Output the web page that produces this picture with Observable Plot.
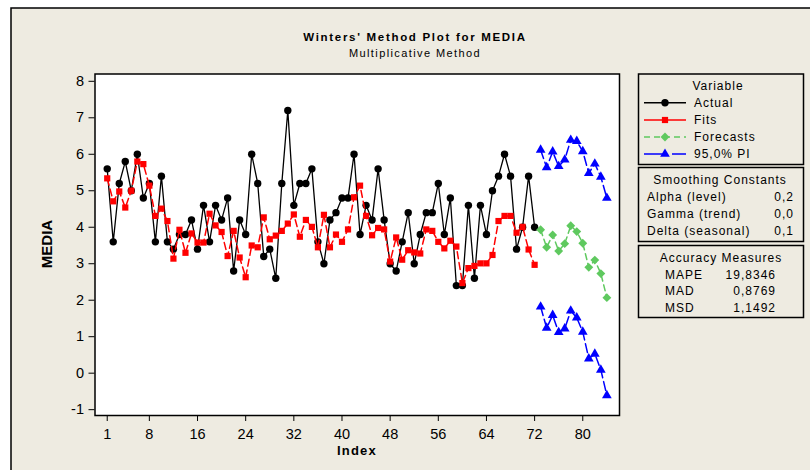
<!DOCTYPE html>
<html><head><meta charset="utf-8">
<script src="https://cdn.jsdelivr.net/npm/d3@7"></script>
<script src="https://cdn.jsdelivr.net/npm/@observablehq/plot@0.6"></script>
<style>body{margin:0;background:#fff} svg{display:block}</style>
</head><body><div id="chart"></div>
<script>
// ---- data ----
const actual = [5.6,3.6,5.2,5.8,5.0,6.0,4.8,5.2,3.6,5.4,
  3.6,3.4,3.8,3.8,4.2,3.4,4.6,3.6,4.6,4.2,
  4.8,2.8,4.2,3.8,6.0,5.2,3.2,3.4,2.6,5.2,
  7.2,4.6,5.2,5.2,5.6,3.6,3.0,4.2,4.4,4.8,
  4.8,6.0,3.8,4.6,4.2,5.6,4.2,3.0,2.8,3.6,
  4.4,3.0,3.8,4.4,4.4,5.2,3.8,4.8,2.4,2.4,
  4.6,2.6,4.6,3.8,5.0,5.4,6.0,5.4,3.4,4.0,
  5.4,4.0];
const fits = [5.34,4.71,4.98,4.54,5.00,5.80,5.73,5.14,4.31,4.51,
  4.17,3.14,3.93,3.30,3.83,3.58,3.58,4.37,4.05,3.87,
  3.21,3.90,3.17,2.63,3.50,3.45,4.27,3.67,3.77,3.90,
  4.10,4.35,3.74,4.20,4.01,3.45,4.34,3.45,3.80,3.60,
  3.94,4.82,5.14,4.31,3.78,3.98,3.94,3.06,3.72,3.11,
  3.37,3.31,3.28,3.94,3.90,3.60,3.42,3.63,3.47,2.47,
  2.88,2.94,3.01,3.01,3.24,4.17,4.31,4.31,3.85,4.01,
  3.39,2.97];
const forecast = [3.93,3.45,3.79,3.35,3.55,4.04,3.88,3.56,2.90,3.10,2.73,2.07];
const upperPI  = [6.12,5.64,6.07,5.67,5.85,6.39,6.36,6.08,5.48,5.74,5.38,4.80];
const lowerPI  = [1.82,1.24,1.59,1.12,1.22,1.71,1.52,1.13,0.40,0.53,0.09,-0.61];
const xTicks = [1,8,16,24,32,40,48,56,64,72,80];
const yTicks = [-1,0,1,2,3,4,5,6,7,8];
const titleText = "Winters' Method Plot for MEDIA";
const subtitleText = "Multiplicative Method";
const legendSeries = ["Actual","Fits","Forecasts","95,0% PI"];
const smoothing = [["Alpha (level)","0,2"],["Gamma (trend)","0,0"],["Delta (seasonal)","0,1"]];
const accuracy = [["MAPE","19,8346"],["MAD","0,8769"],["MSD","1,1492"]];

// ---- build tables ----
const nObs = actual.length;
const obs = actual.map((v,i)=>({i:i+1, actual:v, fit:fits[i]}));
const fc = forecast.map((v,i)=>({i:nObs+i+1, f:v, up:upperPI[i], lo:lowerPI[i]}));

const RED="#ff0000", GREEN="#5fc95f", BLUE="#0000ff", BG="#eeebe1";
const FONT="'Liberation Sans', Arial, sans-serif";

const plot = Plot.plot({
  width:810, height:470,
  marginLeft:94.5, marginRight:191, marginTop:73.5, marginBottom:55,
  style:{background:"transparent", fontFamily:FONT, fontSize:"14.5px", color:"#000"},
  x:{domain:[-1.03,86.1]},
  y:{domain:[-1.16,8.2]},
  marks:[
    Plot.frame({fill:"white"}),
    Plot.axisX({ticks:xTicks, tickSize:6, tickPadding:7, label:null, fontSize:14.5, tickFormat:d=>String(d)}),
    Plot.axisY({ticks:yTicks, tickSize:6, tickPadding:5, label:null, fontSize:14.5, tickFormat:d=>String(d)}),
    Plot.line(obs,{x:"i",y:"actual",stroke:"black",strokeWidth:1.3}),
    Plot.dot(obs,{x:"i",y:"actual",r:3.7,fill:"black"}),
    Plot.line(obs,{x:"i",y:"fit",stroke:RED,strokeWidth:1.5,strokeDasharray:"7,4"}),
    Plot.dot(obs,{x:"i",y:"fit",symbol:"square",r:3.5,fill:RED}),
    Plot.line(fc,{x:"i",y:"f",stroke:GREEN,strokeWidth:1.5,strokeDasharray:"6,4"}),
    Plot.dot(fc,{x:"i",y:"f",symbol:"diamond2",r:4,fill:GREEN}),
    Plot.line(fc,{x:"i",y:"up",stroke:BLUE,strokeWidth:1.5,strokeDasharray:"9,4"}),
    Plot.dot(fc,{x:"i",y:"up",symbol:"triangle",r:3.6,fill:BLUE}),
    Plot.line(fc,{x:"i",y:"lo",stroke:BLUE,strokeWidth:1.5,strokeDasharray:"9,4"}),
    Plot.dot(fc,{x:"i",y:"lo",symbol:"triangle",r:3.6,fill:BLUE}),
    Plot.frame({stroke:"black", strokeWidth:1.5})
  ]
});

const svg = d3.select(plot);
// background & outer border
svg.insert("rect",":first-child").attr("x",11).attr("y",8).attr("width",810).attr("height",470)
  .attr("fill",BG).attr("stroke","black").attr("stroke-width",1.5);
svg.insert("rect",":first-child").attr("x",0).attr("y",0).attr("width",810).attr("height",470).attr("fill","white");

const txt = (x,y,s,opt={}) => svg.append("text").attr("x",x).attr("y",y).attr("dy","0.35em")
  .attr("text-anchor",opt.anchor||"start").attr("font-family",FONT)
  .attr("font-size",opt.size||12).attr("font-weight",opt.weight||"normal")
  .attr("letter-spacing",opt.ls!=null?opt.ls:1.0).attr("fill","black")
  .text(s);

txt(415,37,titleText,{anchor:"middle",size:11.5,weight:"bold",ls:1.7});
txt(415,53,subtitleText,{anchor:"middle",size:11,ls:1.4});
txt(357,450,"Index",{anchor:"middle",size:13,weight:"bold",ls:1.2});
svg.append("text").attr("transform","translate(47,244) rotate(-90)").attr("dy","0.35em")
  .attr("text-anchor","middle").attr("font-family",FONT).attr("font-size",15).attr("font-weight","bold")
  .text("MEDIA");

// legend boxes
const box = (y,h) => svg.append("rect").attr("x",638.5).attr("y",y).attr("width",165).attr("height",h)
  .attr("fill","none").attr("stroke","black").attr("stroke-width",1.5);
box(74,90.5); box(167.5,74); box(245.5,72);

txt(718,86,"Variable",{anchor:"middle"});
const rowsY = [102.7,120,137,154];
const styles = [
  {c:"black", dash:null, sym:d3.symbolCircle, size:Math.PI*3.7*3.7},
  {c:RED, dash:null, sym:d3.symbolSquare, size:Math.PI*3.5*3.5},
  {c:GREEN, dash:"6,4", sym:d3.symbolDiamond2, size:Math.PI*4*4},
  {c:BLUE, dash:"22,6", sym:d3.symbolTriangle, size:Math.PI*3.6*3.6}
];
legendSeries.forEach((name,k)=>{
  const y = rowsY[k], s = styles[k];
  svg.append("line").attr("x1",644).attr("x2",686).attr("y1",y).attr("y2",y)
    .attr("stroke",s.c).attr("stroke-width",1.5).attr("stroke-dasharray",s.dash);
  svg.append("path").attr("d",d3.symbol(s.sym,s.size)()).attr("transform",`translate(665,${y})`).attr("fill",s.c);
  txt(694,y,name);
});

txt(720,179.3,"Smoothing Constants",{anchor:"middle"});
[196.7,214,230.7].forEach((y,k)=>{ txt(647,y,smoothing[k][0]); txt(794,y,smoothing[k][1],{anchor:"end"}); });

txt(721,258,"Accuracy Measures",{anchor:"middle"});
[274.7,290.7,307.3].forEach((y,k)=>{ txt(665,y,accuracy[k][0]); txt(776,y,accuracy[k][1],{anchor:"end"}); });

document.getElementById("chart").appendChild(plot);
</script>
</body></html>
